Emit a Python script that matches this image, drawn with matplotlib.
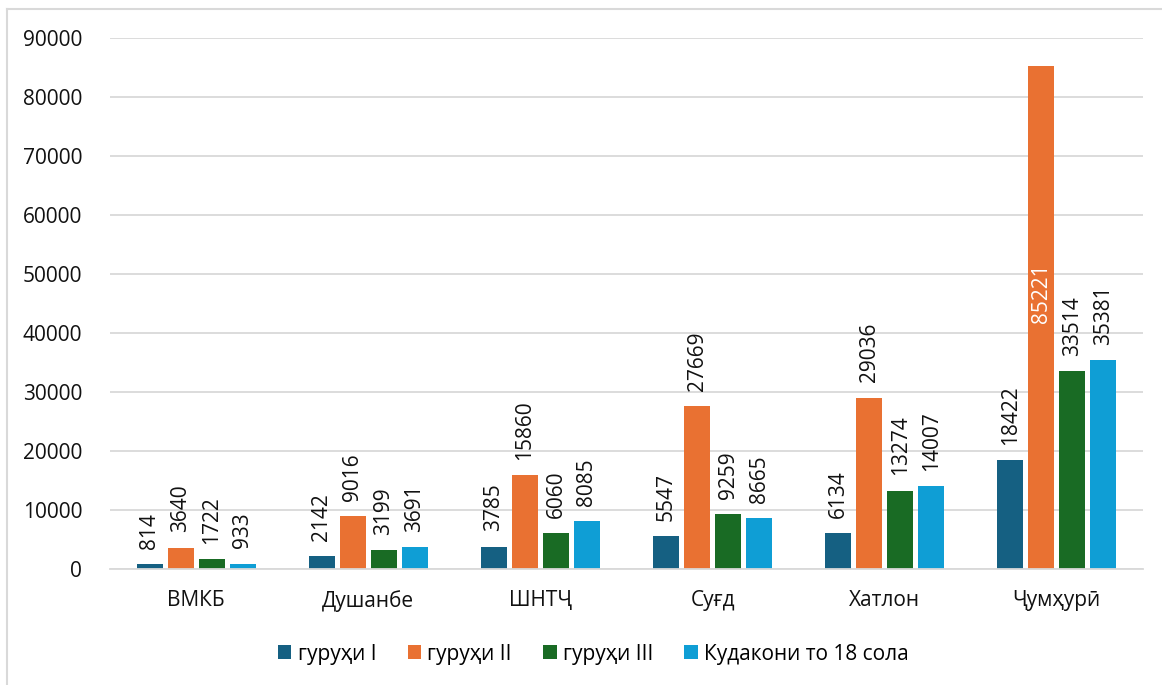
import numpy as np
import matplotlib
matplotlib.use("Agg")
from matplotlib import pyplot as plt
from matplotlib.lines import Line2D

categories = ["ВМКБ", "Душанбе", "ШНТҶ", "Суғд", "Хатлон", "Ҷумҳурӣ"]
group_1 = [814, 2142, 3785, 5547, 6134, 18422]
group_2 = [3640, 9016, 15860, 27669, 29036, 85221]
group_3 = [1722, 3199, 6060, 9259, 13274, 33514]
children = [933, 3691, 8085, 8665, 14007, 35381]
series_labels = ["гуруҳи I", "гуруҳи II", "гуруҳи III", "Кудакони то 18 сола"]
colors = ["#156082", "#E97132", "#196B24", "#0F9ED5"]

plt.rcParams["font.family"] = ["Open Sans", "DejaVu Sans"]
FS = 15

fig = plt.figure(figsize=(11.62, 6.85), dpi=100)
ax = fig.add_axes([0.0947, 0.1693, 0.8889, 0.7752])

x = np.arange(len(categories))
step = 0.18
width = 0.15
all_series = [group_1, group_2, group_3, children]
for i, (values, label, color) in enumerate(zip(all_series, series_labels, colors)):
    pos = x + (i - 1.5) * step
    ax.bar(pos, values, width=width, color=color, label=label, zorder=2)
    for px, v in zip(pos, values):
        if v > 80000:
            # too tall: label sits inside the bar in white
            ax.text(px, v * 0.49, str(v), rotation=90, ha="center", va="bottom",
                    color="white", fontsize=FS)
        else:
            ax.annotate(str(v), (px, v), xytext=(0, 11), textcoords="offset points",
                        rotation=90, ha="center", va="bottom", color="#111111",
                        fontsize=FS)

ax.set_xlim(-0.5, len(categories) - 0.5)
ax.set_ylim(0, 90000)
ax.set_yticks(np.arange(0, 90001, 10000))
ax.yaxis.grid(True, color="#D9D9D9", linewidth=1.3, zorder=0)
ax.set_axisbelow(True)
for s in ["top", "right", "left"]:
    ax.spines[s].set_visible(False)
ax.spines["bottom"].set_color("#D9D9D9")
ax.spines["bottom"].set_linewidth(1.3)
ax.tick_params(axis="both", length=0, labelsize=FS, colors="#111111")
ax.tick_params(axis="y", pad=20)
ax.tick_params(axis="x", pad=15)
ax.set_xticks(x)
ax.set_xticklabels(categories)

ax.legend(loc="upper center", bbox_to_anchor=(0.468, -0.105), ncol=4, frameon=False,
          fontsize=FS, handlelength=0.65, handleheight=0.65, handletextpad=0.3,
          columnspacing=1.5)

# light gray chart-area border (left and top edges visible)
fig.add_artist(Line2D([7 / 1162, 7 / 1162], [0, 1 - 9 / 685], transform=fig.transFigure,
                      color="#D9D9D9", linewidth=1.5))
fig.add_artist(Line2D([7 / 1162, 1], [1 - 9 / 685, 1 - 9 / 685], transform=fig.transFigure,
                      color="#D9D9D9", linewidth=1.5))

fig.savefig("out.png", dpi=100)
